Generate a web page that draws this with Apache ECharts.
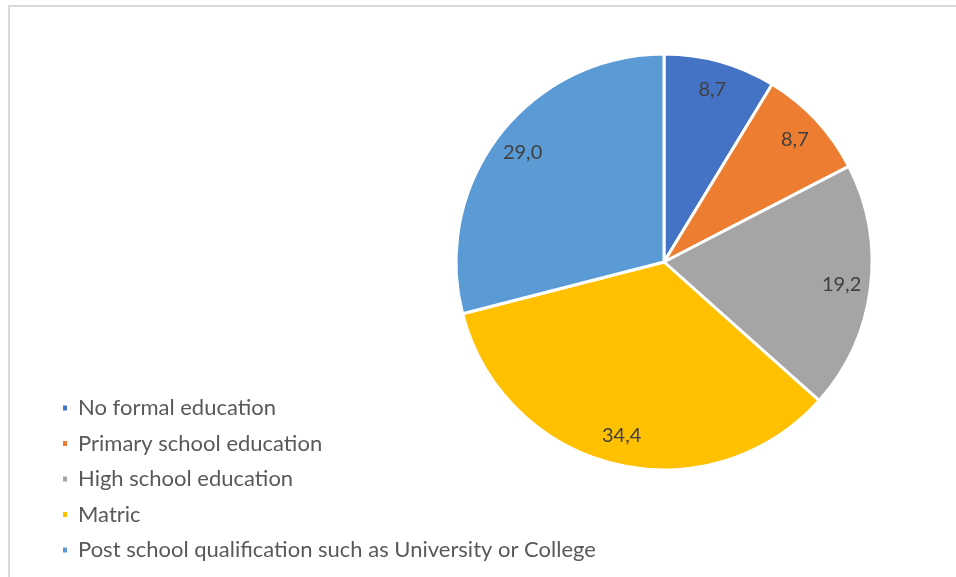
<!DOCTYPE html>
<html>
<head>
<meta charset="utf-8">
<script src="https://cdn.jsdelivr.net/npm/echarts@6/dist/echarts.min.js"></script>
<style>
  html, body { margin: 0; padding: 0; background: #fff; }
  #chart { width: 956px; height: 577px; }
</style>
</head>
<body>
<div id="chart"></div>
<script>
// education levels and their shares (%)
var categories = [
  "No formal education",
  "Primary school education",
  "High school education",
  "Matric",
  "Post school qualification such as University or College"
];
var values = [8.7, 8.7, 19.2, 34.4, 29.0];
var colors = ["#4472C4", "#ED7D31", "#A5A5A5", "#FFC000", "#5B9BD5"];

var pieData = categories.map(function (name, i) {
  return { name: name, value: values[i] };
});

var chart = echarts.init(document.getElementById("chart"));
var font = "Lato, 'Open Sans', sans-serif";

chart.setOption({
  animation: false,
  color: colors,
  graphic: [{
    type: "rect",
    silent: true,
    shape: { x: 9, y: 6, width: 1000, height: 1000 },
    style: { fill: "none", stroke: "#d9d9d9", lineWidth: 2 }
  }],
  legend: {
    orient: "vertical",
    left: 56,
    top: 392,
    icon: "rect",
    itemWidth: 6,
    itemHeight: 7,
    itemGap: 13.5,
    data: categories,
    textStyle: {
      fontFamily: font,
      fontSize: 22,
      color: "#595959",
      lineHeight: 22,
      padding: [0, 0, 0, 5]
    }
  },
  series: [
    {
      // the pie itself
      type: "pie",
      center: [664, 262],
      radius: [0, 208],
      startAngle: 90,
      clockwise: true,
      data: pieData,
      label: { show: false },
      labelLine: { show: false },
      itemStyle: { borderColor: "#fff", borderWidth: 3 },
      emphasis: { disabled: true }
    },
    {
      // transparent ring used only to place the labels near the rim
      type: "pie",
      silent: true,
      center: [664, 262],
      radius: [144, 208],
      startAngle: 90,
      clockwise: true,
      data: pieData,
      itemStyle: { color: "transparent", borderWidth: 0 },
      label: {
        show: true,
        position: "inside",
        fontFamily: font,
        fontSize: 20,
        color: "#404040",
        formatter: function (p) {
          return p.value.toFixed(1).replace(".", ",");
        }
      },
      labelLine: { show: false },
      emphasis: { disabled: true }
    }
  ]
});
</script>
</body>
</html>
